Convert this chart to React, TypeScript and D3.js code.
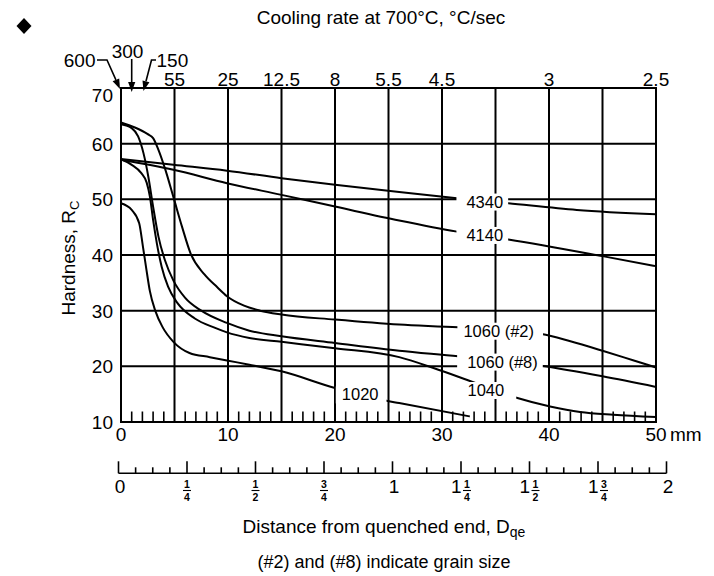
import React, { useEffect, useRef } from "react";
import * as d3 from "d3";

// Hardness (HRC) vs distance from quenched end (mm)
const s4340: [number, number][] = [[0,57.25],[4.9,56.2],[9.9,55.15],[15,53.8],[20,52.6],[26,51.3],[31.4,50.2],[36.2,49.3],[42.6,48.1],[50,47.3]];
const s4140: [number, number][] = [[0,57.1],[4.9,55.3],[9.9,52.9],[15,50.8],[20,48.7],[26,46.2],[31.4,44.2],[36.2,42.8],[45,39.8],[50,38.0]];
const s1060g2: [number, number][] = [[0,63.8],[1.3,62.9],[2.5,61.7],[3.0,61.0],[3.5,58.9],[4.1,55.6],[4.9,50.4],[5.7,45.1],[6.5,40.3],[7.8,36.5],[9.0,34.2],[9.9,32.6],[11.5,30.9],[13,30.0],[15,29.3],[20,28.4],[26,27.5],[31.5,27.0],[35,26.5],[39.3,25.8],[42,24.5],[45,22.8],[48,21.0],[50,19.8]];
const s1060g8: [number, number][] = [[0,63.5],[1.0,62.8],[1.6,61.3],[2.1,58.3],[2.55,54.1],[3.0,48.7],[3.5,43.3],[4.1,39.1],[4.9,35.4],[6.0,32.3],[7.5,30.0],[9.9,27.8],[12,26.4],[15,25.4],[20,24.2],[26,22.8],[31.5,21.8],[39.3,20.1],[45,18.2],[50,16.3]];
const s1040: [number, number][] = [[0,57.2],[1.0,56.2],[1.9,54.7],[2.4,53.0],[2.7,50.5],[3.0,46.3],[3.35,42.1],[3.8,37.9],[4.4,34.3],[5.3,31.3],[6.9,28.6],[8.8,26.9],[9.9,26.1],[12,25.1],[15,24.4],[20,23.25],[26,21.65],[29.2,19.7],[32.3,17.6],[36.8,14.45],[40.1,12.8],[42.9,11.8],[46,11.3],[50,10.9]];
const s1020: [number, number][] = [[0,49.3],[1.0,48.1],[1.7,45.7],[2.05,41.5],[2.35,37.7],[2.7,33.5],[3.2,30.0],[3.9,27.0],[4.9,24.4],[6.4,22.4],[8.3,21.65],[9.9,21.05],[12,20.3],[15,19.1],[20,16.1],[24.7,13.85],[26,13.4],[32.6,11.0]];

const seriesData = [s4340, s4140, s1060g2, s1060g8, s1040, s1020];
const seriesNames = ["4340", "4140", "1060 (#2)", "1060 (#8)", "1040", "1020"];
// label anchor (mm, HRC)
const labelMM = [34.0, 34.0, 35.3, 35.65, 34.1, 22.35];
const labelHRC = [49.6, 43.6, 26.4, 20.85, 15.75, 14.95];

const mmTicks = [0, 10, 20, 30, 40, 50];
const hrcTicks = [10, 20, 30, 40, 50, 60, 70];
const gridMM = [5, 10, 15, 20, 25, 30, 35, 40, 45];
const gridHRC = [20, 30, 40, 50, 60];
const coolingPos = [5, 10, 15, 20, 25, 30, 40, 50];
const coolingRates = ["55", "25", "12.5", "8", "5.5", "4.5", "3", "2.5"];
const fastPos = [0, 1, 2.1];
const fastRates = ["600", "300", "150"];
const inchPos = [0, 0.25, 0.5, 0.75, 1, 1.25, 1.5, 1.75, 2];
const inchWhole = ["0", "", "", "", "1", "1", "1", "1", "2"];
const inchNum = ["", "1", "1", "3", "", "1", "1", "3", ""];
const inchDen = ["", "4", "2", "4", "", "4", "2", "4", ""];

const FONT = "'Liberation Sans', Arial, Helvetica, sans-serif";
const padL = [10, 10, 6, 10, 2, 6];
const padR = [5, 5, 9, 5, 12, 8];

export default function App() {
  const ref = useRef<SVGSVGElement>(null);
  useEffect(() => {
    const svg = d3.select(ref.current);
    svg.selectAll("*").remove();
    const x = d3.scaleLinear().domain([0, 50]).range([121, 656]);
    const y = d3.scaleLinear().domain([10, 70]).range([422, 88]);
    const xin = d3.scaleLinear().domain([0, 2]).range([118.5, 666.5]);
    const root = svg.append("g").attr("font-family", FONT).attr("fill", "#000");

    // grid
    root.append("g").selectAll("line").data(gridMM).join("line")
      .attr("x1", d => x(d)).attr("x2", d => x(d)).attr("y1", y(70)).attr("y2", y(10))
      .attr("stroke", "#000").attr("stroke-width", 2);
    root.append("g").selectAll("line").data(gridHRC).join("line")
      .attr("x1", x(0)).attr("x2", x(50)).attr("y1", d => y(d)).attr("y2", d => y(d))
      .attr("stroke", "#000").attr("stroke-width", 2);
    // minor mm ticks
    const minor = d3.range(1, 50).filter(d => d % 5 !== 0);
    root.append("g").selectAll("line").data(minor).join("line")
      .attr("x1", d => x(d)).attr("x2", d => x(d)).attr("y1", y(10)).attr("y2", y(10) - 10.5)
      .attr("stroke", "#000").attr("stroke-width", 1.6);

    // curves
    const line = d3.line<[number, number]>().x(d => x(d[0])).y(d => y(d[1])).curve(d3.curveMonotoneX);
    root.append("g").selectAll("path").data(seriesData).join("path")
      .attr("d", d => line(d) as string).attr("fill", "none").attr("stroke", "#000").attr("stroke-width", 2);

    // labels with white masks
    const lg = root.append("g");
    seriesNames.forEach((name, i) => {
      const mask = lg.append("rect").attr("fill", "#fff");
      const t = lg.append("text").text(name).attr("x", x(labelMM[i])).attr("y", y(labelHRC[i]))
        .attr("text-anchor", "middle").attr("dominant-baseline", "central").attr("font-size", 16.5);
      const bb = (t.node() as SVGTextElement).getBBox();
      mask.attr("x", bb.x - padL[i]).attr("y", bb.y + 1).attr("width", bb.width + padL[i] + padR[i]).attr("height", bb.height - 1);
    });

    // frame
    root.append("rect").attr("x", x(0)).attr("y", y(70)).attr("width", x(50) - x(0)).attr("height", y(10) - y(70))
      .attr("fill", "none").attr("stroke", "#000").attr("stroke-width", 2);

    // y tick labels
    root.append("g").selectAll("text").data(hrcTicks).join("text")
      .attr("x", 113).attr("y", d => (d === 70 ? y(d) + 7 : y(d)) + 7)
      .attr("text-anchor", "end").attr("font-size", 19).text(d => String(d));
    // mm tick labels
    root.append("g").selectAll("text").data(mmTicks).join("text")
      .attr("x", d => x(d)).attr("y", 441).attr("text-anchor", "middle").attr("font-size", 19).text(d => String(d));
    root.append("text").attr("x", x(50) + 14).attr("y", 441).attr("font-size", 19).text("mm");

    // top cooling rate labels
    root.append("g").selectAll("text").data(coolingPos).join("text")
      .attr("x", d => x(d)).attr("y", 85.5).attr("text-anchor", "middle").attr("font-size", 19)
      .text((d, i) => coolingRates[i]);

    // fast cooling arrows
    const arrow = (pts: [number, number][]) => {
      const n = pts.length;
      const [tx, ty] = pts[n - 1];
      const [px, py] = pts[n - 2];
      const ang = Math.atan2(ty - py, tx - px);
      const L = 10, W = 3.6;
      const bx = tx - L * Math.cos(ang), by = ty - L * Math.sin(ang);
      const shaft = pts.slice(0, n - 1).concat([[bx, by]]);
      root.append("path").attr("d", d3.line()(shaft) as string).attr("fill", "none").attr("stroke", "#000").attr("stroke-width", 1.6);
      const nx = -Math.sin(ang), ny = Math.cos(ang);
      root.append("path").attr("d", `M${tx},${ty}L${bx + nx * W},${by + ny * W}L${bx - nx * W},${by - ny * W}Z`).attr("fill", "#000");
    };
    const tipY = 90;
    arrow([[97, 60], [107, 60], [x(fastPos[0]) - 1, tipY - 1]]);
    arrow([[x(fastPos[1]), 59], [x(fastPos[1]), tipY + 2]]);
    arrow([[156, 60], [151.5, 60], [x(fastPos[2]), tipY + 1]]);
    root.append("text").attr("x", 95.5).attr("y", 66.5).attr("text-anchor", "end").attr("font-size", 19).text(fastRates[0]);
    root.append("text").attr("x", 127.5).attr("y", 57.5).attr("text-anchor", "middle").attr("font-size", 19).text(fastRates[1]);
    root.append("text").attr("x", 156.5).attr("y", 66.5).attr("text-anchor", "start").attr("font-size", 19).text(fastRates[2]);

    // title
    root.append("text").attr("x", 381).attr("y", 23.5).attr("text-anchor", "middle").attr("font-size", 19)
      .text("Cooling rate at 700°C, °C/sec");
    // diamond
    root.append("path").attr("d", "M24,18L31.5,26L24,34L16.5,26Z").attr("fill", "#000");

    // y label
    const yl = root.append("text").attr("transform", "translate(75,258) rotate(-90)").attr("text-anchor", "middle").attr("font-size", 19);
    yl.append("tspan").text("Hardness, R");
    yl.append("tspan").attr("dy", 4).attr("font-size", 13).text("C");

    // inch axis
    const ia = root.append("g");
    const baseY = 473.3;
    ia.append("line").attr("x1", xin(0)).attr("x2", xin(2)).attr("y1", baseY).attr("y2", baseY).attr("stroke", "#000").attr("stroke-width", 1.6);
    const inchTicks = d3.range(0, 33).map(i => i / 16);
    ia.selectAll("line.t").data(inchTicks).join("line")
      .attr("x1", d => xin(d)).attr("x2", d => xin(d)).attr("y1", baseY)
      .attr("y2", (d, i) => baseY - (i % 4 === 0 ? 12 : 6)).attr("stroke", "#000").attr("stroke-width", 1.6);
    inchPos.forEach((p, i) => {
      const w = inchWhole[i], hasF = inchNum[i] !== "";
      const wWidth = w ? 10.5 : 0, fW = hasF ? 8 : 0, gap = w && hasF ? 1.5 : 0;
      const total = wWidth + fW + gap;
      const left = xin(p) - total / 2 + (w && !hasF ? 1.5 : 0);
      if (w) ia.append("text").attr("x", left + wWidth / 2).attr("y", 492.5).attr("text-anchor", "middle").attr("font-size", 19).text(w);
      if (hasF) {
        const cx = left + wWidth + gap + fW / 2;
        ia.append("text").attr("x", cx).attr("y", 487.5).attr("text-anchor", "middle").attr("font-size", 10.5).attr("font-weight", "bold").text(inchNum[i]);
        ia.append("line").attr("x1", cx - 4).attr("x2", cx + 4).attr("y1", 490.5).attr("y2", 490.5).attr("stroke", "#000").attr("stroke-width", 1.1);
        ia.append("text").attr("x", cx).attr("y", 500.5).attr("text-anchor", "middle").attr("font-size", 10.5).attr("font-weight", "bold").text(inchDen[i]);
      }
    });

    // x label
    const xl = root.append("text").attr("x", 384).attr("y", 533).attr("text-anchor", "middle").attr("font-size", 19);
    xl.append("tspan").text("Distance from quenched end, D");
    xl.append("tspan").attr("dy", 4).attr("font-size", 14).text("qe");
    root.append("text").attr("x", 384).attr("y", 568).attr("text-anchor", "middle").attr("font-size", 18)
      .text("(#2) and (#8) indicate grain size");
  }, []);
  return <svg ref={ref} width={714} height={576} style={{ position: "absolute", left: 0, top: 0, background: "#fff" }} />;
}
